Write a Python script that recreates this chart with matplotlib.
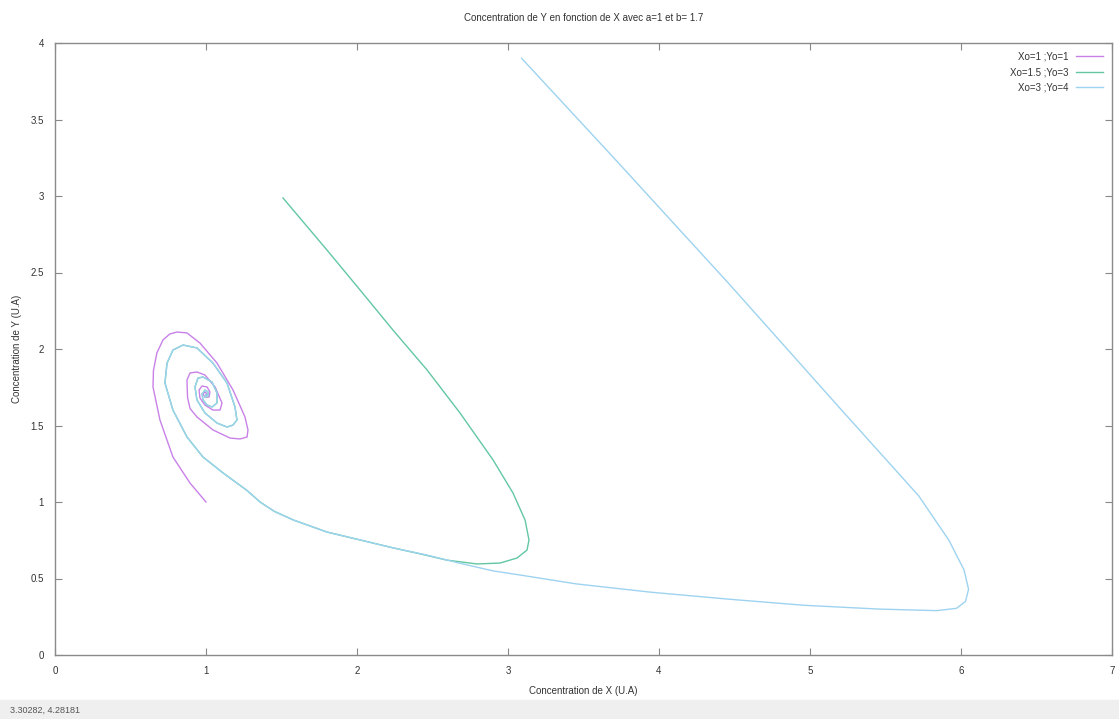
import matplotlib
matplotlib.use("Agg")
import matplotlib.pyplot as plt
from matplotlib.patches import Rectangle

# courbes (x, y)
x1 = [1.0, 0.894, 0.781, 0.695, 0.649, 0.652, 0.675, 0.715, 0.760, 0.808, 0.874, 0.960,
      1.073, 1.179, 1.258, 1.278, 1.272, 1.225, 1.159, 1.046, 0.940, 0.895, 0.878, 0.874,
      0.894, 0.940, 0.993, 1.060, 1.106, 1.093, 1.046, 0.993, 0.960, 0.954, 0.974, 1.007,
      1.026, 1.020, 0.993, 0.980, 0.993, 1.007, 1.0]
y1 = [1.0, 1.124, 1.294, 1.536, 1.752, 1.860, 1.975, 2.059, 2.098, 2.111, 2.105, 2.039,
      1.908, 1.732, 1.556, 1.471, 1.425, 1.412, 1.418, 1.471, 1.556, 1.610, 1.680, 1.797,
      1.843, 1.850, 1.830, 1.752, 1.647, 1.601, 1.601, 1.634, 1.680, 1.732, 1.758, 1.752,
      1.719, 1.686, 1.686, 1.706, 1.719, 1.706, 1.70]

# partie commune (queue + spirale) des courbes 2 et 3
xs = [2.24, 2.02, 1.80, 1.58, 1.45, 1.358, 1.272, 1.113, 0.980, 0.874, 0.781, 0.728, 0.742,
      0.781, 0.848, 0.940, 1.046, 1.139, 1.192, 1.205, 1.179, 1.139, 1.073, 0.993, 0.940,
      0.927, 0.947, 0.980, 1.040, 1.073, 1.073, 1.040, 1.007, 0.980, 0.974, 0.993, 1.013,
      1.013, 0.993, 1.0]
ys = [0.70, 0.752, 0.804, 0.882, 0.94, 1.0, 1.075, 1.190, 1.294, 1.425, 1.601, 1.778, 1.908,
      1.993, 2.026, 2.007, 1.908, 1.778, 1.621, 1.536, 1.503, 1.490, 1.516, 1.582, 1.667,
      1.752, 1.810, 1.817, 1.784, 1.712, 1.647, 1.621, 1.634, 1.667, 1.706, 1.732, 1.719,
      1.693, 1.686, 1.70]

x2 = [1.510, 1.801, 2.020, 2.238, 2.464, 2.682, 2.901, 3.033, 3.113, 3.139, 3.126, 3.060,
      2.947, 2.795, 2.596, 2.40] + xs
y2 = [2.987, 2.647, 2.386, 2.124, 1.863, 1.582, 1.275, 1.059, 0.882, 0.752, 0.686, 0.634,
      0.601, 0.595, 0.620, 0.665] + ys

x3 = [3.09, 3.70, 4.46, 5.21, 5.72, 5.92, 6.02, 6.05, 6.03, 5.97, 5.84, 5.46, 4.96, 4.46,
      3.95, 3.45, 3.13, 2.90, 2.68, 2.46] + xs
y3 = [3.90, 3.25, 2.43, 1.60, 1.04, 0.75, 0.556, 0.43, 0.35, 0.305, 0.29, 0.30, 0.325, 0.365,
      0.41, 0.465, 0.515, 0.55, 0.60, 0.654] + ys

labels = ["Xo=1 ;Yo=1", "Xo=1.5 ;Yo=3", "Xo=3 ;Yo=4"]
colors = ["#c981e8", "#62c7a2", "#9ed3f0"]

plt.rcParams['font.family'] = ['Liberation Sans', 'DejaVu Sans']
fig = plt.figure(figsize=(11.19, 7.19), dpi=100)
ax = fig.add_axes([55/1119, 64/719, 1057/1119, 612/719])

ax.plot(x1, y1, color=colors[0], lw=1.0, label=labels[0])
ax.plot(x2, y2, color=colors[1], lw=1.0, label=labels[1])
ax.plot(x3, y3, color=colors[2], lw=1.0, label=labels[2])

ax.set_xlim(0, 7)
ax.set_ylim(0, 4)
ax.set_xticks(range(0, 8))
ax.set_yticks([0, 0.5, 1, 1.5, 2, 2.5, 3, 3.5, 4])
ax.set_yticklabels(["0", "0.5", "1", "1.5", "2", "2.5", "3", "3.5", "4"])
ax.tick_params(direction='in', length=5, width=0.8, color='#888888', labelsize=7,
               labelcolor='#333333', top=True, right=True, pad=8)
for s in ax.spines.values():
    s.set_color('#8a8a8a')
    s.set_linewidth(1.0)

ax.set_title("Concentration de Y en fonction de X avec a=1 et b= 1.7", fontsize=7,
             color='#333333', pad=16)
ax.set_xlabel("Concentration de X (U.A)", fontsize=7, color='#333333', labelpad=7)
ax.set_ylabel("Concentration de Y (U.A)", fontsize=7, color='#333333', labelpad=6)

ax.legend(loc='upper right', frameon=False, markerfirst=False, fontsize=7,
          handlelength=2.8, labelspacing=0.55, borderaxespad=0.5, labelcolor='#333333')

# barre d'état en bas
fig.patches.append(Rectangle((0, 0), 1, 19/719, transform=fig.transFigure,
                             color='#efefef', zorder=-1))
fig.text(10/1119, 9/719, "3.30282, 4.28181", fontsize=6.5, color='#555555', va='center')

fig.savefig("out.png", dpi=100)
